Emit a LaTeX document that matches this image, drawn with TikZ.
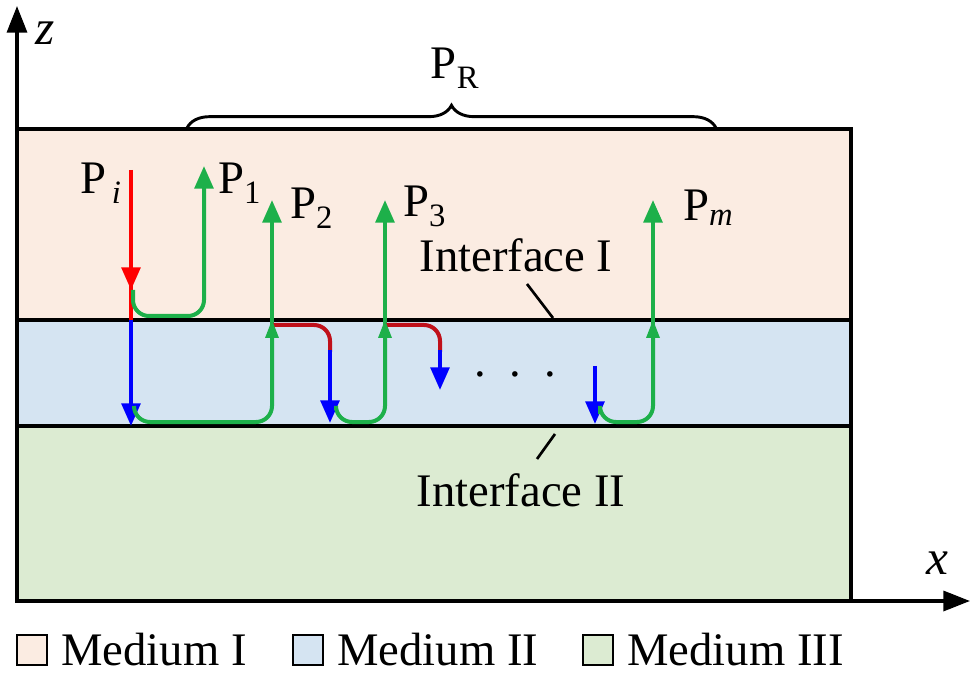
\documentclass[tikz,border=0pt]{standalone}
\usepackage{fontspec}
\setmainfont{Liberation Serif}
\usetikzlibrary{arrows.meta,decorations.pathreplacing,decorations.markings}
\definecolor{mI}{HTML}{FBECE2}
\definecolor{mII}{HTML}{D5E4F2}
\definecolor{mIII}{HTML}{DCEBD2}
\definecolor{gr}{HTML}{1DB04A}
\definecolor{rd}{HTML}{C0101A}
\begin{document}
\begin{tikzpicture}[x=0.75pt,y=-0.75pt,
  ray/.style={line width=3pt,rounded corners=12pt},
  tip/.style={-{Triangle[length=17pt,width=14pt]}},
  mid/.style={postaction={decorate},decoration={markings,mark=at position #1 with {\arrow{Triangle[length=17pt,width=14pt]}}}},
  lbl/.style={font=\fontsize{35}{38}\selectfont,inner sep=0pt},
  leg/.style={draw=black,line width=1.2pt,minimum size=22.5pt,inner sep=0pt}]
\useasboundingbox (0,0) rectangle (975,677);
\fill[mI] (17,129) rectangle (851,320);
\fill[mII] (17,320) rectangle (851,426);
\fill[mIII] (17,426) rectangle (851,601);
\draw[line width=2.6pt] (17,129) rectangle (851,601);
\draw[line width=2.6pt] (17,320) -- (851,320) (17,426) -- (851,426);
\coordinate (o) at (17,601);
\coordinate (zt) at (17,6);
\coordinate (xt) at (970,601);
\draw[line width=2.6pt,-{Triangle[length=20pt,width=15pt]}] (o) -- (zt);
\draw[line width=2.6pt,-{Triangle[length=20pt,width=15pt]}] (o) -- (xt);
\node[lbl,font=\fontsize{37}{40}\selectfont\itshape] (z) at (45,33) {z};
\node[lbl,font=\fontsize{37}{40}\selectfont\itshape] (x) at (937,563) {x};
\coordinate (b1) at (187,128);
\coordinate (b2) at (716,128);
\draw[line width=2.2pt,decorate,decoration={brace,amplitude=17pt}] (b1) -- (b2);
\node[lbl] (PR) at (455,68) {P\textsubscript{R}};
% P_i
\coordinate (pi0) at (131,170);
\coordinate (pi1) at (131,320);
\coordinate (pi2) at (131,426);
\draw[ray,red,mid=0.8,rounded corners=0pt] (pi0) -- (pi1);
\draw[ray,blue,tip,rounded corners=0pt] (pi1) -- (pi2);
\node[lbl,anchor=east] (Pi) at (122,183) {P\textsubscript{\,\itshape i}};
% P1
\coordinate (p1a) at (133,290);
\coordinate (p1e) at (204,166);
\draw[ray,gr,tip] (p1a) |- (204,316) -- (p1e);
\node[lbl,anchor=west] (P1) at (218,183) {P\textsubscript{1}};
% P2
\coordinate (p2s) at (134,406);
\coordinate (p2e) at (272,200);
\draw[ray,gr] (p2s) |- (272,422) -- (272,330);
\draw[ray,gr,tip,rounded corners=0pt] (272,332) -- (p2e);
\node[lbl,anchor=west] (P2) at (290,208) {P\textsubscript{2}};
\draw[ray,rd] (272,325) -| (330,352);
\coordinate (b2e) at (330,423);
\draw[ray,blue,tip,rounded corners=0pt] (330,350) -- (b2e);
% P3
\coordinate (p3e) at (385,200);
\draw[ray,gr] (336,410) |- (385,422) -- (385,330);
\draw[ray,gr,tip,rounded corners=0pt] (385,332) -- (p3e);
\node[lbl,anchor=west] (P3) at (403,206) {P\textsubscript{3}};
\draw[ray,rd] (385,325) -| (440,352);
\coordinate (b3e) at (440,390);
\draw[ray,blue,tip,rounded corners=0pt] (440,350) -- (b3e);
\node[lbl] (dots) at (515,374) {. \,. \,.};
% Pm
\coordinate (bms) at (595,366);
\coordinate (bme) at (595,424);
\draw[ray,blue,tip,rounded corners=0pt] (bms) -- (bme);
\coordinate (pme) at (653,200);
\draw[ray,gr] (600,414) |- (653,422) -- (653,330);
\draw[ray,gr,tip,rounded corners=0pt] (653,332) -- (pme);
\foreach \xx in {272,385,653}
  \fill[gr] (\xx,320) -- ++(-7,18) -- ++(14,0) -- cycle;
\node[lbl,anchor=west] (Pm) at (683,208) {P\textsubscript{\itshape m}};
% interfaces
\node[lbl] (I1) at (516,255) {Interface I};
\coordinate (l1a) at (527,284);
\coordinate (l1b) at (553,318);
\draw[line width=2pt] (l1a) -- (l1b);
\node[lbl] (I2) at (521,490) {Interface II};
\coordinate (l2a) at (537,459);
\coordinate (l2b) at (555,434);
\draw[line width=2pt] (l2a) -- (l2b);
% legend
\node[leg,fill=mI] (s1) at (32,650) {};
\node[lbl,anchor=west] (t1) at (61,650) {Medium I};
\node[leg,fill=mII] (s2) at (308,650) {};
\node[lbl,anchor=west] (t2) at (337,650) {Medium II};
\node[leg,fill=mIII] (s3) at (598,650) {};
\node[lbl,anchor=west] (t3) at (627,650) {Medium III};
\end{tikzpicture}
\end{document}
